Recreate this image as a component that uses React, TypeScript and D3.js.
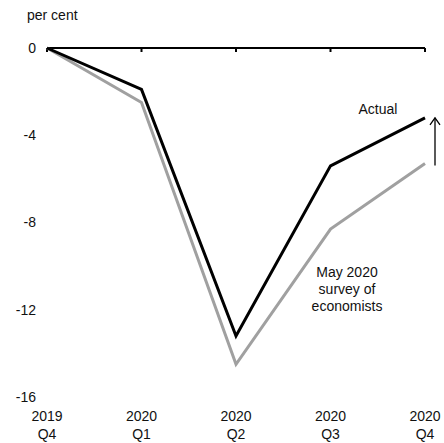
import React from "react";
import * as d3 from "d3";

const quarters = ["2019|Q4", "2020|Q1", "2020|Q2", "2020|Q3", "2020|Q4"];
const actual = [0, -1.9, -13.2, -5.4, -3.2];
const survey = [0, -2.5, -14.5, -8.3, -5.3];
const yTicks = [0, -4, -8, -12, -16];

export default function App() {
  const W = 444, H = 443;
  const x = d3.scalePoint<string>().domain(quarters).range([47, 425]);
  const y = d3.scaleLinear().domain([0, -16]).range([48, 397]);
  const line = d3
    .line<number>()
    .x((_, i) => x(quarters[i]) as number)
    .y((d) => y(d));
  const font = "'Liberation Sans', Arial, sans-serif";
  const lastX = x(quarters[4]) as number;
  const ax = lastX + 10;
  const aTop = y(actual[4]);
  const aBot = y(survey[4]) + 2;
  return (
    <svg
      width={W}
      height={H}
      style={{ position: "absolute", left: 0, top: 0 }}
      fontFamily={font}
      fontSize={14}
    >
      <text x={27} y={20} fill="#111">per cent</text>
      {yTicks.map((t) => (
        <text key={t} x={36} y={y(t)} dy="0.35em" textAnchor="end" fill="#111">
          {t}
        </text>
      ))}
      {quarters.map((q) => {
        const [yr, qq] = q.split("|");
        const cx = x(q) as number;
        return (
          <g key={q} fill="#111">
            <text x={cx} y={421} textAnchor="middle">{yr}</text>
            <text x={cx} y={439} textAnchor="middle">{qq}</text>
            <line x1={cx} x2={cx} y1={y(0)} y2={y(0) + 4} stroke="#000" strokeWidth={2} />
          </g>
        );
      })}
      <line x1={x(quarters[0]) as number} x2={lastX} y1={y(0)} y2={y(0)} stroke="#000" strokeWidth={2} />
      <path d={line(survey) as string} fill="none" stroke="#a0a0a0" strokeWidth={3} strokeLinejoin="miter" />
      <path d={line(actual) as string} fill="none" stroke="#000" strokeWidth={3} strokeLinejoin="miter" />
      <text x={378} y={114} textAnchor="middle" fill="#111">Actual</text>
      <g textAnchor="middle" fill="#111">
        <text x={347} y={277}>May 2020</text>
        <text x={347} y={294}>survey of</text>
        <text x={347} y={311}>economists</text>
      </g>
      <line x1={ax} x2={ax} y1={aBot} y2={aTop} stroke="#000" strokeWidth={1.3} />
      <path
        d={`M${ax - 5},${aTop + 7} L${ax},${aTop} L${ax + 5},${aTop + 7}`}
        fill="none"
        stroke="#000"
        strokeWidth={1.3}
      />
    </svg>
  );
}
